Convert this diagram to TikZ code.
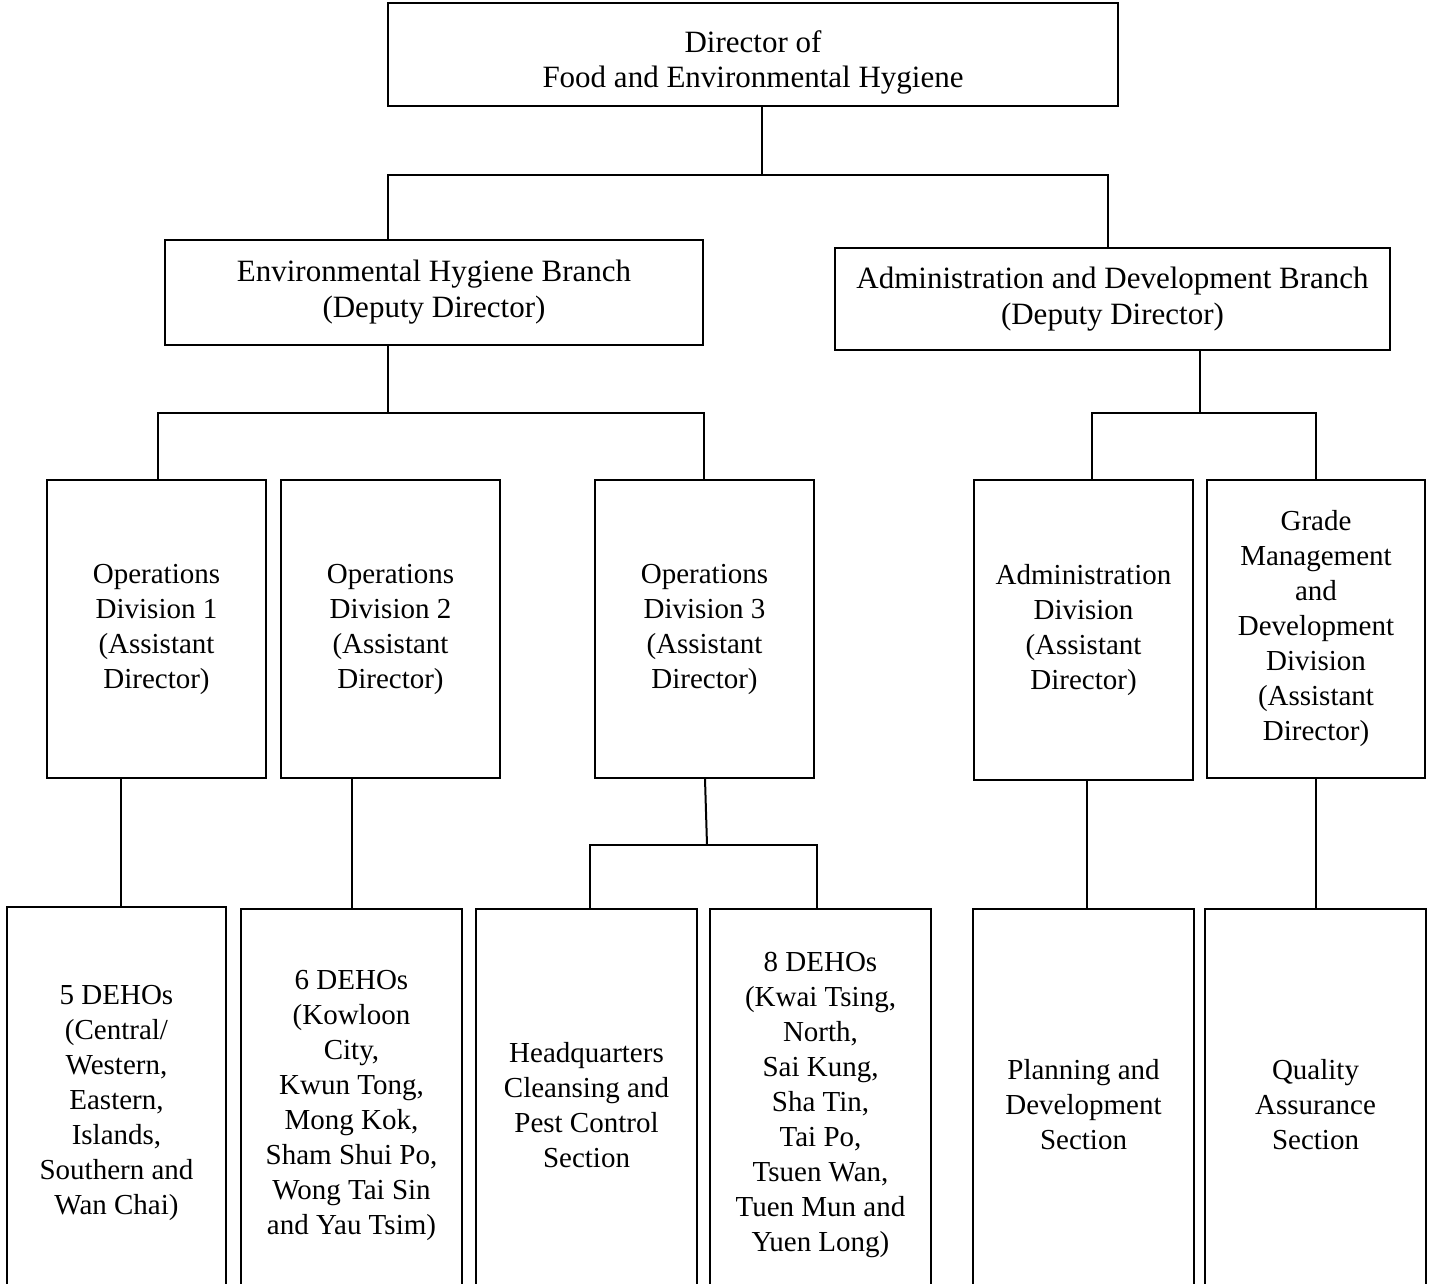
\documentclass[tikz,border=0pt]{standalone}
\usepackage{fontspec}
\setmainfont{Liberation Serif}
\begin{document}
\begin{tikzpicture}[x=1pt,y=-1pt,
  every path/.style={line width=2pt},
  boxbig/.style={draw,line width=2pt,inner sep=0pt,align=center,font=\fontsize{31}{36}\selectfont},
  boxmid/.style={draw,line width=2pt,inner sep=0pt,align=center,font=\fontsize{29}{35}\selectfont},
  boxopen/.style={inner sep=0pt,align=center,font=\fontsize{29}{35}\selectfont,minimum height=390pt},
  conn/.style={line width=2pt}]
\useasboundingbox (0,0) rectangle (1432,1283);
% level 0
\node[boxbig,minimum width=730pt,minimum height=103pt] (dir) at (753,54.5) {};
\node[font=\fontsize{31}{35}\selectfont,align=center,inner sep=0pt] (dirt) at (753,62.5) {Director of\\Food and Environmental Hygiene};
% level 1
\node[boxbig,minimum width=538pt,minimum height=105pt] (eh) at (434,292.5) {Environmental Hygiene Branch\\(Deputy Director)};
\node[boxbig,minimum width=555pt,minimum height=102pt] (ad) at (1112.5,299) {Administration and Development Branch\\(Deputy Director)};
% level 2
\node[boxmid,minimum width=219pt,minimum height=298pt] (o1) at (156.5,629) {Operations\\Division 1\\(Assistant\\Director)};
\node[boxmid,minimum width=219pt,minimum height=298pt] (o2) at (390.5,629) {Operations\\Division 2\\(Assistant\\Director)};
\node[boxmid,minimum width=219pt,minimum height=298pt] (o3) at (704.5,629) {Operations\\Division 3\\(Assistant\\Director)};
\node[boxmid,minimum width=219pt,minimum height=300pt] (adm) at (1083.5,630) {Administration\\Division\\(Assistant\\Director)};
\node[boxmid,minimum width=218pt,minimum height=298pt] (gr) at (1316,629) {Grade\\Management\\and\\Development\\Division\\(Assistant\\Director)};
% level 3 (open at the bottom)
\node[boxopen,minimum width=217pt] (d1) at (116.5,1103) {5 DEHOs\\(Central/\\Western,\\Eastern,\\Islands,\\Southern and\\Wan Chai)};
\node[boxopen,minimum width=219pt] (d2) at (351.5,1105) {6 DEHOs\\(Kowloon\\City,\\Kwun Tong,\\Mong Kok,\\Sham Shui Po,\\Wong Tai Sin\\and Yau Tsim)};
\node[boxopen,minimum width=219pt] (d3) at (586.5,1105) {Headquarters\\Cleansing and\\Pest Control\\Section};
\node[boxopen,minimum width=219pt] (d4) at (820.5,1105) {8 DEHOs\\(Kwai Tsing,\\North,\\Sai Kung,\\Sha Tin,\\Tai Po,\\Tsuen Wan,\\Tuen Mun and\\Yuen Long)};
\node[boxopen,minimum width=219pt] (d5) at (1083.5,1105) {Planning and\\Development\\Section};
\node[boxopen,minimum width=219pt] (d6) at (1315.5,1105) {Quality\\Assurance\\Section};
\foreach \n in {d1,d2,d3,d4,d5,d6}{
  \draw (\n.south west) -- (\n.north west) -- (\n.north east) -- (\n.south east);
}
% connectors
\coordinate (j1) at (762,175);
\draw[conn] (dir.south -| j1) -- (j1);
\draw[conn] (eh.north -| 388,0) -- (j1 -| 388,0) -- (j1 -| 1108,0) -- (ad.north -| 1108,0);
\coordinate (j2) at (388,413);
\draw[conn] (eh.south -| j2) -- (j2);
\draw[conn] (o1.north -| 158,0) -- (j2 -| 158,0) -- (j2 -| 704,0) -- (o3.north -| 704,0);
\coordinate (j3) at (1200,413);
\draw[conn] (ad.south -| j3) -- (j3);
\draw[conn] (adm.north -| 1092,0) -- (j3 -| 1092,0) -- (j3 -| 1316,0) -- (gr.north -| 1316,0);
\draw[conn] (o1.south -| 121,0) -- (d1.north -| 121,0);
\draw[conn] (o2.south -| 352,0) -- (d2.north -| 352,0);
\coordinate (j4) at (707,845);
\draw[conn] (o3.south -| 705,0) -- (j4);
\draw[conn] (d3.north -| 590,0) -- (j4 -| 590,0) -- (j4 -| 817,0) -- (d4.north -| 817,0);
\draw[conn] (adm.south -| 1087,0) -- (d5.north -| 1087,0);
\draw[conn] (gr.south -| 1316,0) -- (d6.north -| 1316,0);
\end{tikzpicture}
\end{document}
